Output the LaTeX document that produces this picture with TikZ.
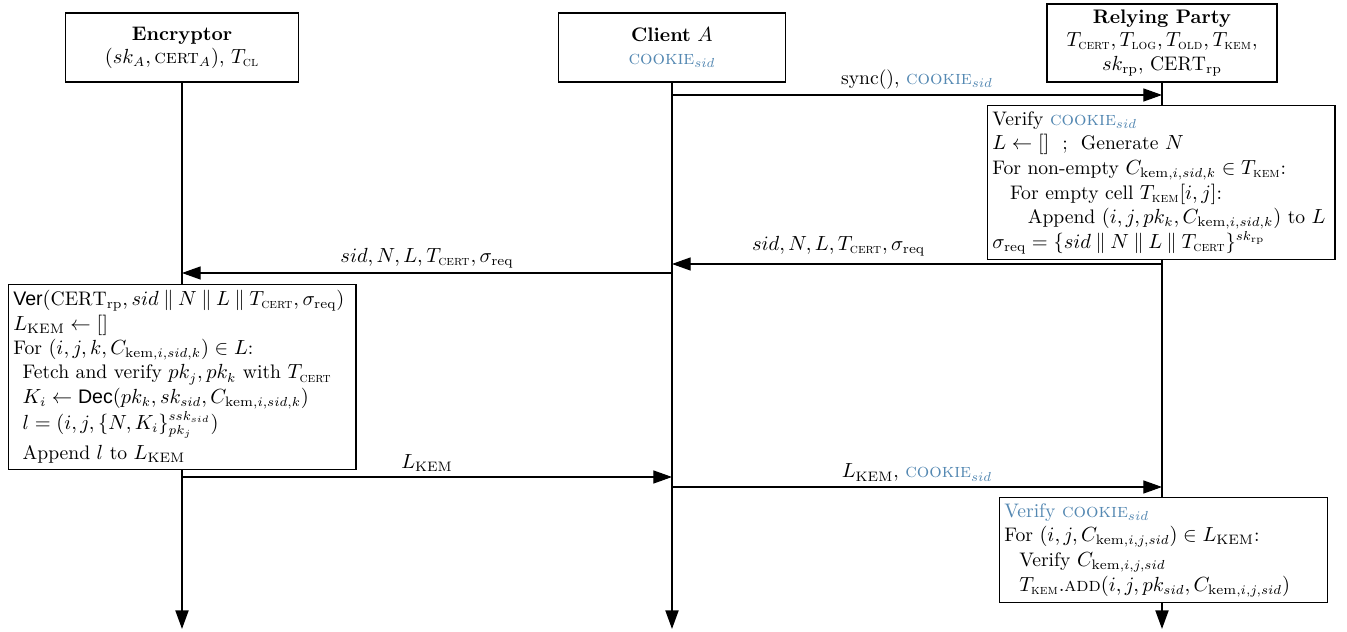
\documentclass[tikz,border=0pt]{standalone}
\usepackage{amsmath,amssymb}
\usepackage{fontspec}
\newfontfamily\sansfam{Liberation Sans}
\usetikzlibrary{arrows.meta,positioning}
\definecolor{ckblue}{RGB}{84,136,178}
\newcommand{\cookie}{\textcolor{ckblue}{\textsc{cookie}$_{sid}$}}
\newcommand{\tsub}[1]{T_{\text{\textsc{#1}}}}
\newcommand{\ckem}[1]{C_{\mathrm{kem},#1}}
\newcommand{\sfop}[1]{\text{\sansfam #1}}

\begin{document}
\begin{tikzpicture}[x=0.5356pt, y=-0.5356pt, >={Triangle[length=10pt,width=7pt]},
  font={\fontsize{10.5}{12.4}\selectfont},
  actor/.style={draw, line width=0.9pt, fill=white, align=center, inner sep=2pt,
                minimum height=37pt},
  proc/.style={draw, line width=0.7pt, fill=white, align=left, anchor=north west,
               inner xsep=2.5pt, inner ysep=3pt, font={\fontsize{10.5}{13.2}\selectfont}},
  life/.style={->, line width=1pt},
  msg/.style={->, line width=0.6pt},
  lbl/.style={inner sep=2.5pt}]

\useasboundingbox (0,0) rectangle (1347,632);

% the three parties
\node[actor, minimum width=124.8pt] (enc) at (182,47.5)
  {\textbf{Encryptor}\\ $(sk_A, \text{\textsc{cert}}_A)$, $\tsub{cl}$};
\node[actor, minimum width=121.6pt] (cli) at (672,47.5)
  {\textbf{Client} $A$\\ \cookie};
\node[actor, minimum width=123pt, minimum height=41.8pt] (rp) at (1162,43)
  {\textbf{Relying Party}\\ $\tsub{cert}, \tsub{log}, \tsub{old}, \tsub{kem}$,\\
   $sk_{\mathrm{rp}}$, $\mathrm{CERT}_{\mathrm{rp}}$};

\coordinate (encend) at (182,629);
\coordinate (cliend) at (672,629);
\coordinate (rpend)  at (1162,629);
\draw[life] (enc.south) -- (encend);
\draw[life] (cli.south) -- (cliend);
\draw[life] (rp.south)  -- (rpend);

% request for the KEM table
\coordinate (c1) at (672,95);   \coordinate (r1) at (1162,95);
\draw[msg] (c1) -- node[lbl, above]{sync(), \cookie} (r1);

\node[proc, text width=181pt] (rpwork) at (987,105)
  {Verify \cookie\\
   $L \leftarrow []$ \ ; \ Generate $N$\\
   For non-empty $\ckem{i,sid,k} \in \tsub{kem}$:\\
   \hspace*{9.5pt}For empty cell $\tsub{kem}[i,j]$:\\
   \hspace*{19pt}Append $(i,j,pk_k,\ckem{i,sid,k})$ to $L$\\
   $\sigma_{\mathrm{req}} = \{sid \mathbin{\|} N \mathbin{\|} L \mathbin{\|} \tsub{cert}\}^{sk_{\mathrm{rp}}}$};

\coordinate (r2) at (1162,264);  \coordinate (c2) at (672,264);
\draw[msg] (r2) -- node[lbl, above, pos=0.66, yshift=1.5pt]
  {$sid, N, L, \tsub{cert}, \sigma_{\mathrm{req}}$} (c2);
\coordinate (c3) at (672,273);   \coordinate (e3) at (182,273);
\draw[msg] (c3) -- node[lbl, above]
  {$sid, N, L, \tsub{cert}, \sigma_{\mathrm{req}}$} (e3);

\node[proc, text width=181pt, font={\fontsize{10.5}{13.1}\selectfont}] (encwork) at (8,284)
  {$\sfop{Ver}(\mathrm{CERT}_{\mathrm{rp}}, sid \mathbin{\|} N \mathbin{\|} L \mathbin{\|} \tsub{cert}, \sigma_{\mathrm{req}})$\\
   $L_{\mathrm{KEM}} \leftarrow []$\\
   For $(i,j,k,\ckem{i,sid,k}) \in L$:\\
   \hspace*{5pt}Fetch and verify $pk_j, pk_k$ with $\tsub{cert}$\\
   \hspace*{5pt}$K_i \leftarrow \sfop{Dec}(pk_k, sk_{sid}, \ckem{i,sid,k})$\\[1pt]
   \hspace*{5pt}$l = (i,j,\{N,K_i\}_{pk_j}^{ssk_{sid}})$\\[3pt]
   \hspace*{5pt}Append $l$ to $L_{\mathrm{KEM}}$};

% answers travel back to the relying party
\coordinate (e4) at (182,477);   \coordinate (c4) at (672,477);
\draw[msg] (e4) -- node[lbl, above]{$L_{\mathrm{KEM}}$} (c4);
\coordinate (c5) at (672,487);   \coordinate (r5) at (1162,487);
\draw[msg] (c5) -- node[lbl, above]{$L_{\mathrm{KEM}}$, \cookie} (r5);

\node[proc, text width=170.7pt] (rpadd) at (999,497)
  {\textcolor{ckblue}{Verify \textsc{cookie}$_{sid}$}\\
   For $(i,j,\ckem{i,j,sid}) \in L_{\mathrm{KEM}}$:\\
   \hspace*{8pt}Verify $\ckem{i,j,sid}$\\
   \hspace*{8pt}$\tsub{kem}.\text{\textsc{add}}(i,j,pk_{sid},\ckem{i,j,sid})$};
\end{tikzpicture}
\end{document}
